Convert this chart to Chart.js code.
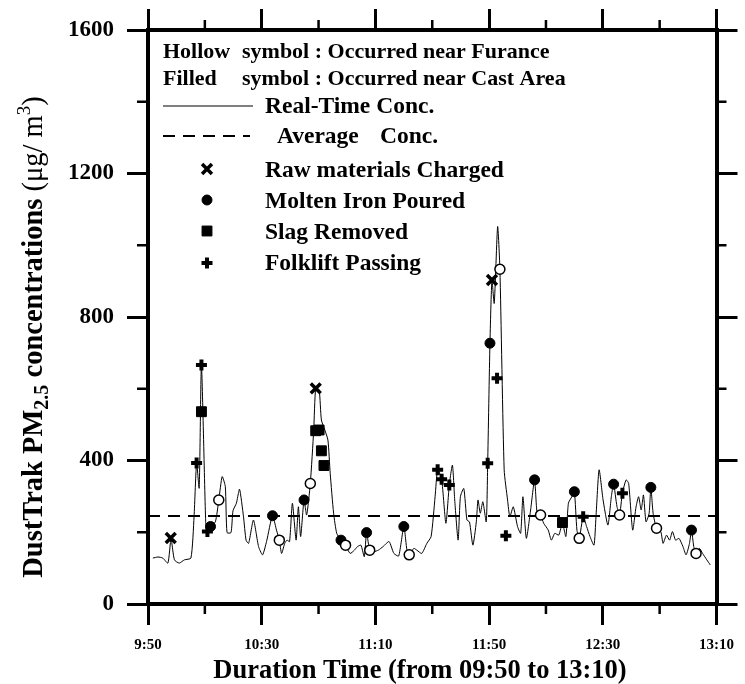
<!DOCTYPE html>
<html>
<head>
<meta charset="utf-8">
<script src="https://cdn.jsdelivr.net/npm/chart.js@4.4.0/dist/chart.umd.min.js"></script>
<style>
  html, body { margin: 0; padding: 0; background: #fff; }
  #wrap { width: 745px; height: 684px; }
</style>
</head>
<body>
<div id="wrap"><canvas id="myChart" width="745" height="684"></canvas></div>
<script>
/* 時刻ラベル (09:50 からの経過分で横軸を作る) */
const timeLabels = ['9:50', '10:30', '11:10', '11:50', '12:30', '13:10'];
const concTicks = [0, 400, 800, 1200, 1600];

/* リアルタイム濃度 (経過分, μg/m3) */
const realTimeMin = [1.7, 3.5, 5.2, 7.0, 8.1, 9.3, 11.0, 12.8, 15.1, 16.2, 17.1, 18.0, 18.8, 20.3, 20.9, 22.0,
  23.7, 24.9, 26.1, 27.2, 27.8, 29.2, 29.9, 31.1, 32.2, 33.6, 34.5, 35.4, 37.1, 38.9, 40.3, 41.7, 43.8, 45.2,
  46.2, 47.0, 48.1, 48.9, 49.8, 50.8, 52.1, 52.9, 53.7, 54.9, 55.8, 57.1, 58.3, 59.0, 60.2, 61.0, 62.2, 63.3,
  64.1, 65.3, 66.4, 67.9, 69.5, 71.1, 72.6, 73.7, 74.9, 76.1, 76.9, 78.0, 79.5, 81.0, 82.7, 84.8, 86.5, 88.2,
  90.0, 91.1, 91.9, 93.5, 94.6, 96.3, 98.1, 99.6, 101.0, 101.9, 103.3, 104.8, 106.0, 107.1, 107.9, 109.1, 109.9,
  111.1, 112.2, 113.1, 114.3, 115.5, 116.1, 116.9, 117.8, 119.0, 119.5, 120.3, 121.0, 121.8, 123.0, 123.8, 125.3,
  126.5, 127.3, 128.5, 130.0, 131.1, 131.9, 133.1, 134.6, 136.0, 136.9, 138.1, 139.2, 140.8, 141.9, 143.1, 144.5,
  145.8, 147.0, 147.9, 149.1, 150.0, 150.9, 151.7, 153.1, 154.3, 155.5, 156.9, 157.6, 158.7, 160.1, 161.8, 163.0,
  163.8, 165.0, 165.9, 166.9, 168.2, 169.1, 170.5, 171.7, 172.6, 173.5, 174.3, 175.2, 176.3, 176.9, 177.7, 178.9,
  180.4, 181.2, 182.4, 183.5, 184.5, 185.6, 186.8, 188.2, 189.3, 190.5, 191.2, 192.0, 192.8, 194.0, 195.1, 196.6, 197.8];
const realTimeConc = [128, 131, 128, 114, 181, 123, 114, 123, 128, 243, 393, 323, 666, 229, 202, 216,
  229, 290, 355, 327, 199, 199, 260, 281, 320, 243, 178, 169, 234, 160, 137, 174, 246, 206,
  178, 141, 169, 178, 174, 281, 178, 271, 188, 290, 248, 336, 485, 601, 597, 513, 485, 457,
  364, 253, 197, 178, 164, 141, 150, 160, 164, 132, 199, 150, 146, 150, 160, 174, 141, 134,
  216, 150, 137, 155, 150, 141, 169, 188, 299, 374, 348, 225, 332, 387, 290, 178, 299,
  322, 234, 229, 164, 229, 290, 253, 285, 229, 392, 727, 903, 838, 1052, 933, 374,
  290, 243, 271, 216, 197, 299, 183, 262, 346, 253, 248, 225, 206, 178, 197, 192,
  225, 188, 281, 299, 313, 206, 183, 243, 216, 188, 164, 243, 374, 290, 220, 299,
  334, 271, 248, 309, 346, 336, 206, 271, 299, 262, 304, 229, 253, 325, 253, 211,
  202, 169, 192, 178, 202, 178, 183, 160, 137, 169, 206, 160, 141, 155, 141, 123, 109];

/* 平均濃度 */
const averageConc = 245;

/* イベント発生時刻と濃度 */
const rawMin = [8.0, 59.0, 121.0];
const rawConc = [184, 601, 903];
const ironFilledMin = [22.0, 43.8, 54.9, 67.9, 76.9, 90.0, 120.3, 136.0, 150.0, 163.8, 176.9, 191.2];
const ironFilledConc = [216, 246, 290, 178, 199, 216, 727, 346, 313, 334, 325, 206];
const ironHollowMin = [24.9, 46.2, 57.1, 69.5, 78.0, 91.9, 123.8, 138.1, 151.7, 165.9, 178.9, 192.8];
const ironHollowConc = [290, 178, 336, 164, 150, 137, 933, 248, 183, 248, 211, 141];
const slagMin = [18.8, 59.0, 60.2, 61.0, 61.9, 145.8];
const slagConc = [536, 483, 485, 427, 386, 227];
const forkMin = [17.1, 18.8, 20.9, 101.9, 103.3, 106.0, 119.5, 122.8, 125.9, 153.1, 166.9];
const forkConc = [393, 666, 202, 374, 348, 332, 392, 629, 190, 243, 309];

const pts = (xs, ys) => xs.map((x, i) => ({ x: x, y: ys[i] }));

const SERIF = "'Liberation Serif', 'Times New Roman', serif";
Chart.defaults.font.family = SERIF;
Chart.defaults.color = '#000';

/* マーカーのスタイル (凡例でも同じものを使う) */
const markRaw = { pointStyle: 'crossRot', radius: 7, borderWidth: 3.5, fill: '#000', stroke: '#000' };
const markIron = { pointStyle: 'circle', radius: 5, borderWidth: 1, fill: '#000', stroke: '#000' };
const markHollow = { pointStyle: 'circle', radius: 5, borderWidth: 1.5, fill: '#fff', stroke: '#000' };
const markSlag = { pointStyle: 'rect', radius: 7, borderWidth: 1, fill: '#000', stroke: '#000' };
const markFork = { pointStyle: 'cross', radius: 5.5, borderWidth: 4, fill: '#000', stroke: '#000' };

function markerSet(data, m) {
  return {
    type: 'scatter', data: data, order: 0,
    pointStyle: m.pointStyle, pointRadius: m.radius, pointBorderWidth: m.borderWidth,
    pointBackgroundColor: m.fill, pointBorderColor: m.stroke, showLine: false
  };
}

/* 副目盛り (20分ごと, 200ごと) */
const minorTicks = {
  id: 'minorTicks',
  afterDraw(chart) {
    const { ctx, chartArea: a, scales } = chart;
    ctx.save();
    ctx.strokeStyle = '#000';
    ctx.lineWidth = 2.5;
    ctx.beginPath();
    for (let m = 20; m < 200; m += 40) {
      const x = scales.x.getPixelForValue(m);
      ctx.moveTo(x, a.bottom); ctx.lineTo(x, a.bottom + 10);
      ctx.moveTo(x, a.top); ctx.lineTo(x, a.top - 10);
    }
    for (let v = 200; v < 1600; v += 400) {
      const y = scales.y.getPixelForValue(v);
      ctx.moveTo(a.left, y); ctx.lineTo(a.left - 11, y);
      ctx.moveTo(a.right, y); ctx.lineTo(a.right + 10, y);
    }
    ctx.stroke();
    ctx.restore();
  }
};

/* 凡例と軸タイトル */
const notes = {
  id: 'notes',
  afterDraw(chart) {
    const ctx = chart.ctx;
    ctx.save();
    ctx.fillStyle = '#000';
    ctx.textBaseline = 'alphabetic';
    ctx.textAlign = 'left';
    ctx.font = 'bold 22px ' + SERIF;
    ctx.fillText('Hollow', 163, 58);
    ctx.fillText('symbol : Occurred near Furance', 242, 58);
    ctx.fillText('Filled', 163, 85);
    ctx.fillText('symbol : Occurred near Cast Area', 242, 85);

    // 実線と破線の見本
    ctx.font = 'bold 23.5px ' + SERIF;
    ctx.strokeStyle = '#000';
    ctx.lineWidth = 1;
    ctx.beginPath(); ctx.moveTo(163, 106); ctx.lineTo(253, 106); ctx.stroke();
    ctx.fillText('Real-Time Conc.', 265, 113);
    ctx.lineWidth = 2;
    ctx.setLineDash([12, 8]);
    ctx.beginPath(); ctx.moveTo(163, 136); ctx.lineTo(250, 136); ctx.stroke();
    ctx.setLineDash([]);
    ctx.fillText('Average', 277, 143);
    ctx.fillText('Conc.', 380, 143);

    const rows = [
      [markRaw, 'Raw materials Charged', 169, 177],
      [markIron, 'Molten Iron Poured', 200, 208],
      [markSlag, 'Slag Removed', 231, 239],
      [markFork, 'Folklift Passing', 263, 270]
    ];
    rows.forEach(r => {
      const m = r[0];
      ctx.save();
      ctx.fillStyle = m.fill;
      ctx.strokeStyle = m.stroke;
      ctx.lineWidth = m.borderWidth;
      Chart.helpers.drawPoint(ctx, { pointStyle: m.pointStyle, radius: m.radius, borderWidth: m.borderWidth, rotation: 0 }, 207, r[2]);
      ctx.restore();
      ctx.fillText(r[1], 265, r[3]);
    });

    // 横軸タイトル
    ctx.font = 'bold 26.5px ' + SERIF;
    ctx.textAlign = 'center';
    ctx.fillText('Duration Time (from 09:50 to 13:10)', 420, 678);

    // 縦軸タイトル (下付き・上付きあり)
    const parts = [
      ['DustTrak PM', 'bold 28.5px ', 0],
      ['2.5', 'bold 20px ', 6],
      [' concentrations ', 'bold 28.5px ', 0],
      ['(\u03bcg/ m', '28.5px ', 0],
      ['3', '19px ', -12],
      [')', '28.5px ', 0]
    ];
    ctx.textAlign = 'left';
    let total = 0;
    parts.forEach(p => { ctx.font = p[1] + SERIF; total += ctx.measureText(p[0]).width; });
    ctx.translate(42, 337);
    ctx.rotate(-Math.PI / 2);
    let x = -total / 2;
    parts.forEach(p => {
      ctx.font = p[1] + SERIF;
      ctx.fillText(p[0], x, p[2]);
      x += ctx.measureText(p[0]).width;
    });
    ctx.restore();
  }
};

const axisGrid = {
  drawOnChartArea: false, drawTicks: true, tickLength: 21, tickWidth: 3,
  tickColor: '#000', color: '#000', lineWidth: 3
};
const axisBorder = { display: true, width: 4, color: '#000' };

let ctx = document.getElementById('myChart').getContext('2d');
let dustChart = new Chart(ctx, {
  type: 'line',
  data: {
    datasets: [
      markerSet(pts(rawMin, rawConc), markRaw),
      markerSet(pts(ironHollowMin, ironHollowConc), markHollow),
      markerSet(pts(ironFilledMin, ironFilledConc), markIron),
      markerSet(pts(slagMin, slagConc), markSlag),
      markerSet(pts(forkMin, forkConc), markFork),
      {
        label: 'Real-Time Conc.', data: pts(realTimeMin, realTimeConc), order: 1,
        borderColor: '#000', borderWidth: 1, pointRadius: 0, tension: 0.2, fill: false
      },
      {
        label: 'Average Conc.', data: [{ x: 0, y: averageConc }, { x: 200, y: averageConc }], order: 2,
        borderColor: '#000', borderWidth: 2, borderDash: [12, 8], pointRadius: 0, fill: false
      }
    ]
  },
  options: {
    responsive: false,
    animation: false,
    devicePixelRatio: 1,
    layout: { padding: 0 },
    plugins: { legend: { display: false }, tooltip: { enabled: false } },
    scales: {
      x: {
        type: 'linear', position: 'bottom', min: 0, max: 200,
        grid: axisGrid, border: axisBorder,
        ticks: {
          stepSize: 40, padding: 11, maxRotation: 0,
          font: { size: 15, weight: 'bold' },
          callback: v => timeLabels[Math.round(v / 40)]
        },
        afterFit: s => { s.height = 80; }
      },
      x2: {
        type: 'linear', position: 'top', min: 0, max: 200,
        grid: axisGrid, border: axisBorder,
        ticks: { stepSize: 40, display: false },
        afterFit: s => { s.height = 30; }
      },
      y: {
        type: 'linear', position: 'left', min: 0, max: 1600,
        grid: axisGrid, border: axisBorder,
        ticks: {
          stepSize: 400, padding: 13,
          font: { size: 23, weight: 'bold' },
          callback: v => concTicks.includes(v) ? String(v) : ''
        },
        afterFit: s => { s.width = 148; }
      },
      y2: {
        type: 'linear', position: 'right', min: 0, max: 1600,
        grid: axisGrid, border: axisBorder,
        ticks: { stepSize: 400, display: false },
        afterFit: s => { s.width = 22; }
      }
    }
  },
  plugins: [minorTicks, notes]
});
</script>
</body>
</html>
